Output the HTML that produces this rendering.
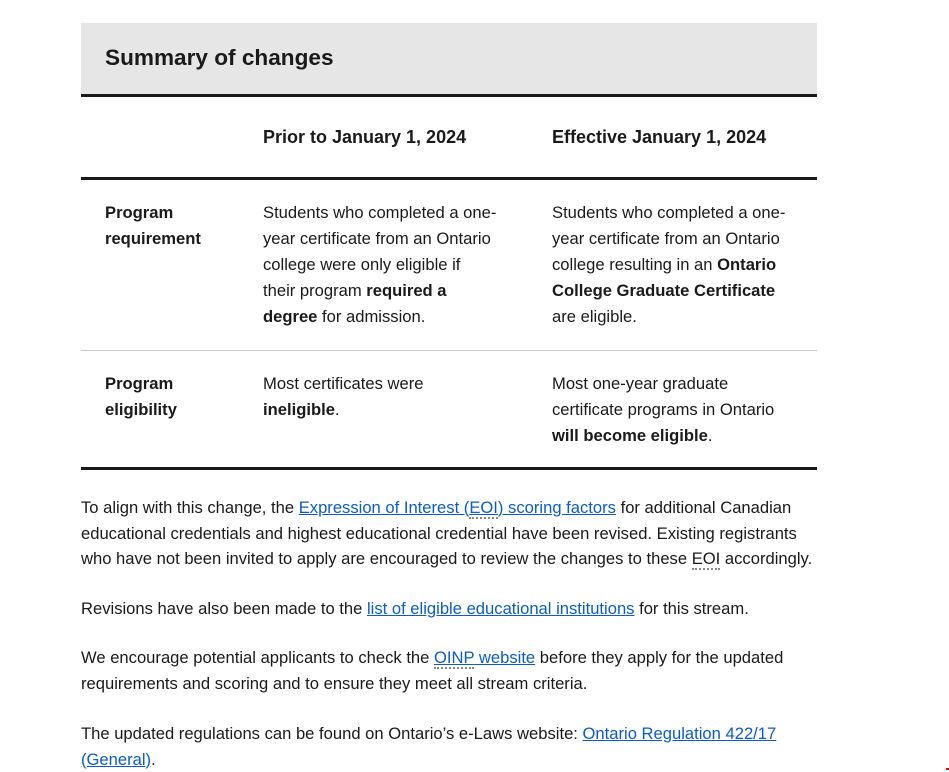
<!DOCTYPE html>
<html><head><style>
body{margin:0;background:#fff;font-family:"Liberation Sans",sans-serif;color:#1a1a1a;font-size:16.6px;}
.a{position:absolute;white-space:nowrap;line-height:26px;}
b{font-weight:bold}
a{color:#0b5cc7;text-decoration:underline;}
.ab{border-bottom:2px dotted #888;}
.ln{position:absolute;left:81px;width:736px;}
</style></head><body>
<div style="position:absolute;left:81px;top:23px;width:736px;height:72px;background:#e6e6e6"></div>
<div class="a" style="left:105px;top:44px;font-size:22.6px;font-weight:bold;line-height:28px">Summary of changes</div>
<div class="ln" style="top:94px;height:3px;background:#1a1a1a"></div>
<div class="a" style="left:263px;top:124px;font-size:18px;font-weight:bold">Prior to January 1, 2024</div>
<div class="a" style="left:552px;top:124px;font-size:18px;font-weight:bold">Effective January 1, 2024</div>
<div class="ln" style="top:177px;height:3px;background:#1a1a1a"></div>
<div class="a" style="left:105px;top:200px"><b>Program<br>requirement</b></div>
<div class="a" style="left:263px;top:200px">Students who completed a one-<br>year certificate from an Ontario<br>college were only eligible if<br>their program <b>required a<br>degree</b> for admission.</div>
<div class="a" style="left:552px;top:200px">Students who completed a one-<br>year certificate from an Ontario<br>college resulting in an <b>Ontario<br>College Graduate Certificate</b><br>are eligible.</div>
<div class="ln" style="top:350px;height:1px;background:#ccc"></div>
<div class="a" style="left:105px;top:371px"><b>Program<br>eligibility</b></div>
<div class="a" style="left:263px;top:371px">Most certificates were<br><b>ineligible</b>.</div>
<div class="a" style="left:552px;top:371px">Most one-year graduate<br>certificate programs in Ontario<br><b>will become eligible</b>.</div>
<div class="ln" style="top:467px;height:3px;background:#1a1a1a"></div>
<div class="a" style="left:81px;top:495px;line-height:25.5px">To align with this change, the <a>Expression of Interest (<span class="ab">EOI</span>) scoring factors</a> for additional Canadian<br>educational credentials and highest educational credential have been revised. Existing registrants<br>who have not been invited to apply are encouraged to review the changes to these <span class="ab">EOI</span> accordingly.</div>
<div class="a" style="left:81px;top:596px;line-height:25.5px">Revisions have also been made to the <a>list of eligible educational institutions</a> for this stream.</div>
<div class="a" style="left:81px;top:645px;line-height:25.5px">We encourage potential applicants to check the <a><span class="ab">OINP</span> website</a> before they apply for the updated<br>requirements and scoring and to ensure they meet all stream criteria.</div>
<div class="a" style="left:81px;top:721px;line-height:25.5px">The updated regulations can be found on Ontario’s e-Laws website: <a>Ontario Regulation 422/17<br>(General)</a>.</div>
<div style="position:absolute;left:946px;top:768px;width:3px;height:2px;background:#e00"></div>
</body></html>
